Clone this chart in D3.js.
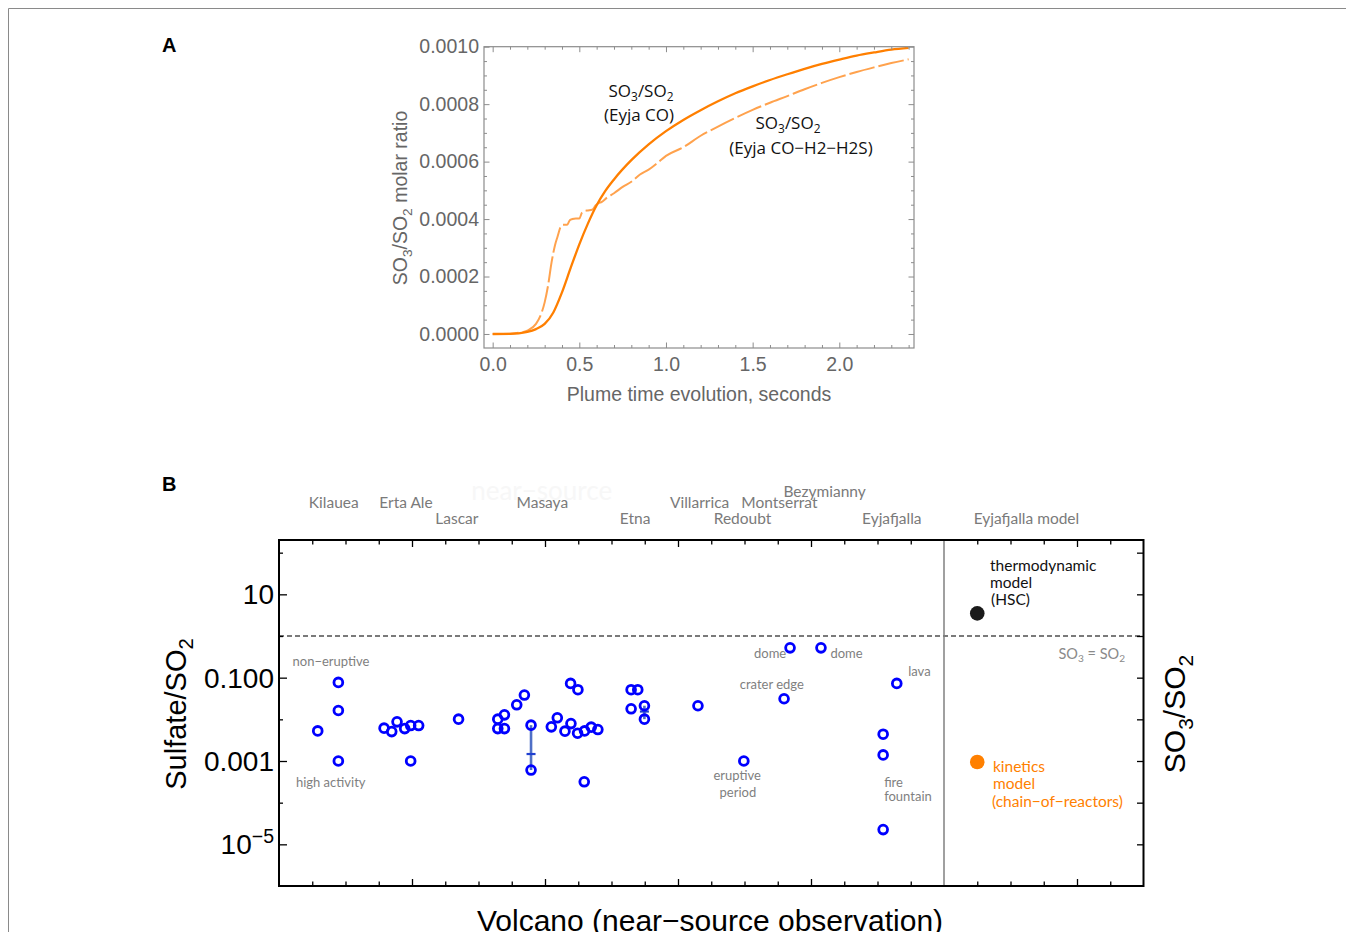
<!DOCTYPE html>
<html><head><meta charset="utf-8">
<script src="https://cdn.jsdelivr.net/npm/d3@7"></script>
<style>body{margin:0;background:#fff;} svg{display:block;}</style>
</head><body>
<svg id="c" width="1346" height="932"></svg>
<script>
// ---------------- Panel A data ----------------
const timeCO  = [0,0.1,0.15,0.2,0.25,0.3,0.35,0.4,0.45,0.5,0.55,0.6,0.65,0.7,0.8,0.9,1.0,1.1,1.2,1.3,1.4,1.5,1.6,1.7,1.8,1.9,2.0,2.1,2.2,2.3,2.4];
const ratioCO = [0,0.0000005,0.000002,0.000007,0.000017,0.000035,0.000075,0.000145,0.00023,0.000312,0.000385,0.000448,0.000498,0.000538,0.000605,0.00066,0.000706,0.000745,0.000779,0.00081,0.000838,0.000862,0.000884,0.000904,0.000923,0.00094,0.000955,0.000969,0.00098,0.00099,0.000996];
const timeH2S  = [0,0.1,0.15,0.2,0.25,0.28,0.3,0.32,0.34,0.36,0.375,0.39,0.405,0.43,0.445,0.46,0.48,0.5,0.515,0.53,0.55,0.575,0.595,0.61,0.63,0.66,0.7,0.75,0.8,0.85,0.9,0.95,1.0,1.1,1.2,1.3,1.4,1.5,1.6,1.7,1.8,1.9,2.0,2.1,2.2,2.3,2.4];
const ratioH2S = [0,0.000001,0.000004,0.000012,0.000035,0.00007,0.00011,0.00017,0.00025,0.00031,0.00034,0.00037,0.00038,0.00038,0.000396,0.0004,0.000402,0.000402,0.000422,0.000428,0.00043,0.000433,0.000448,0.000455,0.00046,0.000475,0.00049,0.000512,0.00053,0.000555,0.000572,0.000595,0.00062,0.00065,0.00069,0.000722,0.000752,0.00078,0.000805,0.000828,0.000852,0.000874,0.000894,0.000912,0.000928,0.000943,0.000956];
const xTicksA = [0,0.5,1,1.5,2];
const xTickLabelsA = ["0.0","0.5","1.0","1.5","2.0"];
const yTicksA = [0,0.0002,0.0004,0.0006,0.0008,0.001];
const yTickLabelsA = ["0.0000","0.0002","0.0004","0.0006","0.0008","0.0010"];

// ---------------- Panel B data ----------------
const obsX = [1.165,1.785,1.785,1.785,
  3.16,3.39,3.55,3.78,3.96,4.20,3.96,
  5.40,
  6.58,6.78,6.58,6.78,7.15,7.38,7.58,7.58,
  8.19,8.37,8.60,8.78,8.98,9.19,9.39,9.59,8.77,8.99,9.18,
  10.59,10.79,10.59,10.99,10.99,
  12.60,
  13.98,
  15.37,15.19,
  16.30,
  18.58,18.17,18.17,18.17];
const obsRatio = [0.00528,0.077,0.0163,0.001,
  0.00614,0.00508,0.0087,0.006,0.0071,0.0071,0.001,
  0.0101,
  0.0101,0.0128,0.006,0.006,0.0223,0.0383,0.00725,0.000607,
  0.0066,0.0109,0.0052,0.0079,0.00465,0.00528,0.0065,0.00568,0.0729,0.0514,0.000317,
  0.0514,0.0514,0.0179,0.0212,0.0101,
  0.0212,
  0.001,
  0.52,0.0312,
  0.52,
  0.0729,0.0044,0.0014,0.0000226];
const errX = [7.58,10.99];
const errLow = [0.000607,0.0101];
const errHigh = [0.00725,0.0212];
const errMid = [0.00147,0.0154];
const volcanoNames = ["Kilauea","Erta Ale","Lascar","Masaya","Etna","Villarrica","Montserrat","Redoubt","Bezymianny","Eyjafjalla","Eyjafjalla model"];
const volcanoLabelX = [1.648,3.82,5.35,7.92,10.71,12.65,15.05,13.94,16.41,18.43,22.48];
const volcanoLabelRow = [1,1,2,1,2,1,1,2,0,2,2];
const modelX = [21.0,21.0];
const modelRatio = [3.49,0.000946];
const yTicksB = [10,0.1,0.001,1e-5];
const yTickLabelsB = ["10","0.100","0.001","10|−5"];
const ySlimTicksB = [100,1,0.01,1e-4];
const noteText = ["non−eruptive","high activity","dome","dome","crater edge","lava","eruptive","period","fire","fountain"];
const noteX = [1.564,1.555,14.77,17.07,14.82,19.26,13.78,13.80,18.20,18.20];
const noteRatio = [0.19,0.000242,0.292,0.292,0.0526,0.1096,0.00035,0.000139,0.000242,0.000111];
const noteAnchor = ["middle","middle","middle","middle","middle","middle","middle","middle","start","start"];

// ---------------- Drawing ----------------
const svg = d3.select("#c");
const SANS = "'Liberation Sans', Arial, sans-serif";
const LATO = "Lato, 'Open Sans', sans-serif";

svg.append("path").attr("d","M8.5,932 V8.5 H1346").attr("fill","none").attr("stroke","#8a8a8a").attr("stroke-width",1);

svg.append("text").attr("x",162).attr("y",51.5).text("A").attr("font-family",SANS).attr("font-weight","bold").attr("font-size",20).attr("fill","#000");
svg.append("text").attr("x",162).attr("y",491).text("B").attr("font-family",SANS).attr("font-weight","bold").attr("font-size",20).attr("fill","#000");

function rich(sel, parts, size){
  let shift = 0;
  parts.forEach(([t,type])=>{
    const ts = sel.append("tspan").text(t);
    let target = 0, fs = size;
    if(type==="sub"){ target = 0.25*size; fs = size*0.7; }
    if(type==="sup"){ target = -0.42*size; fs = size*0.7; }
    ts.attr("font-size",fs).attr("dy", target-shift);
    shift = target;
  });
  return sel;
}

// ---- Panel A ----
const xA = d3.scaleLinear().domain([-0.05,2.431]).range([484,914]);
const yA = d3.scaleLinear().domain([-0.0000488,0.001]).range([348,46.7]);
const gA = svg.append("g");
const grayA = "#8c8c8c";
gA.append("defs").append("clipPath").attr("id","clipA").append("rect")
  .attr("x",484).attr("y",46.7).attr("width",430).attr("height",301.3);

const line = d3.line().curve(d3.curveMonotoneX);
gA.append("path").attr("clip-path","url(#clipA)")
  .attr("d", line(timeH2S.map((t,i)=>[xA(t),yA(ratioH2S[i])])))
  .attr("fill","none").attr("stroke","#ffa24d").attr("stroke-width",2).attr("stroke-dasharray","26,4");
gA.append("path").attr("clip-path","url(#clipA)")
  .attr("d", line(timeCO.map((t,i)=>[xA(t),yA(ratioCO[i])])))
  .attr("fill","none").attr("stroke","#ff7f00").attr("stroke-width",2.3);

const minorXA = d3.range(0,25).map(i=>i/10).filter(v=>Math.abs(v*2-Math.round(v*2))>1e-6);
const minorYA = d3.range(0,21).map(i=>i*0.00005).filter(v=>Math.abs(v/0.0002-Math.round(v/0.0002))>1e-6);

function styleAxis(g, color, fs, family){
  g.select(".domain").remove();
  g.selectAll("line").attr("stroke",color).attr("stroke-width",1);
  g.selectAll("text").attr("fill","#666").attr("font-size",fs).attr("font-family",family);
}
gA.append("g").attr("transform","translate(0,348)")
  .call(d3.axisBottom(xA).tickValues(xTicksA).tickSize(-5.5).tickPadding(9).tickFormat((d,i)=>xTickLabelsA[i]))
  .call(g=>styleAxis(g,grayA,19.5,SANS));
gA.append("g").attr("transform","translate(0,348)")
  .call(d3.axisBottom(xA).tickValues(minorXA).tickSize(-3).tickFormat(""))
  .call(g=>styleAxis(g,grayA,19.5,SANS));
gA.append("g").attr("transform","translate(0,46.7)")
  .call(d3.axisTop(xA).tickValues(xTicksA).tickSize(-5.5).tickFormat(""))
  .call(g=>styleAxis(g,grayA,19.5,SANS));
gA.append("g").attr("transform","translate(0,46.7)")
  .call(d3.axisTop(xA).tickValues(minorXA).tickSize(-3).tickFormat(""))
  .call(g=>styleAxis(g,grayA,19.5,SANS));
gA.append("g").attr("transform","translate(484,0)")
  .call(d3.axisLeft(yA).tickValues(yTicksA).tickSize(-5.5).tickPadding(5).tickFormat((d,i)=>yTickLabelsA[i]))
  .call(g=>styleAxis(g,grayA,19.5,SANS));
gA.append("g").attr("transform","translate(484,0)")
  .call(d3.axisLeft(yA).tickValues(minorYA).tickSize(-3).tickFormat(""))
  .call(g=>styleAxis(g,grayA,19.5,SANS));
gA.append("g").attr("transform","translate(914,0)")
  .call(d3.axisRight(yA).tickValues(yTicksA).tickSize(-5.5).tickFormat(""))
  .call(g=>styleAxis(g,grayA,19.5,SANS));
gA.append("g").attr("transform","translate(914,0)")
  .call(d3.axisRight(yA).tickValues(minorYA).tickSize(-3).tickFormat(""))
  .call(g=>styleAxis(g,grayA,19.5,SANS));
gA.append("rect").attr("x",484).attr("y",46.7).attr("width",430).attr("height",301.3)
  .attr("fill","none").attr("stroke",grayA).attr("stroke-width",1.2);

gA.append("text").attr("x",699).attr("y",401).attr("text-anchor","middle")
  .attr("font-family",SANS).attr("font-size",19.5).attr("fill","#666").text("Plume time evolution, seconds");
rich(gA.append("text").attr("transform","translate(407,198) rotate(-90)").attr("text-anchor","middle")
  .attr("font-family",SANS).attr("font-size",19.5).attr("fill","#666"),
  [["SO",""],["3","sub"],["/SO",""],["2","sub"],[" molar ratio",""]],19.5);

const OPEN = "'Open Sans', 'Noto Sans', sans-serif";
function labA(x,y,parts){
  rich(gA.append("text").attr("x",x).attr("y",y).attr("text-anchor","middle")
    .attr("font-family",OPEN).attr("font-size",17).attr("fill","#111"),parts,17);
}
labA(641,97,[["SO",""],["3","sub"],["/SO",""],["2","sub"]]);
labA(639,121,[["(Eyja CO)",""]]);
labA(788,129,[["SO",""],["3","sub"],["/SO",""],["2","sub"]]);
labA(801,154,[["(Eyja CO−H2−H2S)",""]]);

// ---- Panel B ----
const L=279, R=1143.5, T=540, B=886;
const xB = d3.scaleLinear().domain([0,26]).range([L,R]);
const yB = d3.scaleLog().domain([1e-6, Math.pow(10,2.304)]).range([B,T]);
const gB = svg.append("g");

// faint ghost text
gB.append("text").attr("x",xB(7.9)).attr("y",500).attr("text-anchor","middle")
  .attr("font-family",LATO).attr("font-size",26).attr("fill","#f7f7f7").text("near−source");

const rowY = [496.7,508,524];
volcanoNames.forEach((n,i)=>{
  gB.append("text").attr("x",xB(volcanoLabelX[i])).attr("y",rowY[volcanoLabelRow[i]])
    .attr("text-anchor","middle").attr("font-family",LATO).attr("font-size",15.5)
    .attr("fill","#7a7a7a").text(n);
});

gB.append("line").attr("x1",L).attr("x2",R).attr("y1",yB(1)).attr("y2",yB(1))
  .attr("stroke","#7a7a7a").attr("stroke-width",2).attr("stroke-dasharray","5,3");
gB.append("line").attr("x1",xB(20)).attr("x2",xB(20)).attr("y1",T).attr("y2",B)
  .attr("stroke","#808080").attr("stroke-width",1.5);

const xAll = d3.range(1,26);
const xMaj = xAll.filter(v=>v%4===0 && v!==20);
const xMin = xAll.filter(v=>v%4!==0);
function tickAxis(axis, vals, size){
  return g=>{ g.call(axis.tickValues(vals).tickSize(size).tickFormat(""));
    g.select(".domain").remove(); g.selectAll("line").attr("stroke","#000").attr("stroke-width",1.3); };
}
gB.append("g").attr("transform",`translate(0,${B})`).call(tickAxis(d3.axisBottom(xB),xMaj,-7));
gB.append("g").attr("transform",`translate(0,${B})`).call(tickAxis(d3.axisBottom(xB),xMin,-4.5));
gB.append("g").attr("transform",`translate(0,${T})`).call(tickAxis(d3.axisTop(xB),xMaj,-7));
gB.append("g").attr("transform",`translate(0,${T})`).call(tickAxis(d3.axisTop(xB),xMin,-4.5));
gB.append("g").attr("transform",`translate(${L},0)`).call(tickAxis(d3.axisLeft(yB),yTicksB,-8));
gB.append("g").attr("transform",`translate(${L},0)`).call(tickAxis(d3.axisLeft(yB),ySlimTicksB,-4));
gB.append("g").attr("transform",`translate(${R},0)`).call(tickAxis(d3.axisRight(yB),yTicksB.concat(ySlimTicksB),-6.5));

yTicksB.forEach((v,i)=>{
  const t = gB.append("text").attr("x",L-5).attr("y",yB(v)).attr("dy","0.36em").attr("text-anchor","end")
    .attr("font-family",SANS).attr("font-size",28).attr("fill","#000");
  const lab = yTickLabelsB[i];
  if(lab.includes("|")){
    const [b,e] = lab.split("|");
    t.append("tspan").text(b);
    t.append("tspan").text(e).attr("font-size",19.5).attr("dy",-11);
  } else t.text(lab);
});

gB.append("rect").attr("x",L).attr("y",T).attr("width",R-L).attr("height",B-T)
  .attr("fill","none").attr("stroke","#000").attr("stroke-width",2);

errX.forEach((x,i)=>{
  gB.append("line").attr("x1",xB(x)).attr("x2",xB(x)).attr("y1",yB(errLow[i])).attr("y2",yB(errHigh[i]))
    .attr("stroke","#4f6fc6").attr("stroke-width",2.6);
  gB.append("line").attr("x1",xB(x)-4.5).attr("x2",xB(x)+4.5).attr("y1",yB(errMid[i])).attr("y2",yB(errMid[i]))
    .attr("stroke","#1f3fd0").attr("stroke-width",2.2);
});

gB.selectAll("circle.obs").data(obsX).enter().append("circle").attr("class","obs")
  .attr("cx",d=>xB(d)).attr("cy",(d,i)=>yB(obsRatio[i])).attr("r",4.4)
  .attr("fill","none").attr("stroke","#0000ff").attr("stroke-width",2.8);

const modelColor = ["#1a1a1a","#ff8000"];
modelX.forEach((x,i)=>{
  gB.append("circle").attr("cx",xB(x)).attr("cy",yB(modelRatio[i])).attr("r",7.3).attr("fill",modelColor[i]);
});

noteText.forEach((t,i)=>{
  gB.append("text").attr("x",xB(noteX[i])).attr("y",yB(noteRatio[i])).attr("text-anchor",noteAnchor[i])
    .attr("font-family",LATO).attr("font-size",13).attr("fill","#7f7f7f").text(t);
});
function block(x,y,lines,color){
  lines.forEach((l,i)=>{
    gB.append("text").attr("x",x).attr("y",y+i*17.2).attr("font-family",LATO).attr("font-size",15.5)
      .attr("fill",color).text(l);
  });
}
block(990,571,["thermodynamic","model"],"#111");
gB.append("text").attr("x",991).attr("y",605.3).attr("font-family",LATO).attr("font-size",15.5).attr("fill","#111").text("(HSC)");
block(993,772,["kinetics","model"],"#ff8000");
gB.append("text").attr("x",992).attr("y",806.5).attr("font-family",LATO).attr("font-size",15.5).attr("fill","#ff8000").text("(chain−of−reactors)");
rich(gB.append("text").attr("x",1125).attr("y",658.5).attr("text-anchor","end")
  .attr("font-family",LATO).attr("font-size",14.5).attr("fill","#8a8a8a"),
  [["SO",""],["3","sub"],[" = SO",""],["2","sub"]],14.5);

rich(gB.append("text").attr("transform","translate(186,714) rotate(-90)").attr("text-anchor","middle")
  .attr("font-family",SANS).attr("font-size",29).attr("fill","#000"),
  [["Sulfate/SO",""],["2","sub"]],29);
rich(gB.append("text").attr("transform","translate(1185,714) rotate(-90)").attr("text-anchor","middle")
  .attr("font-family",SANS).attr("font-size",30).attr("fill","#000"),
  [["SO",""],["3","sub"],["/SO",""],["2","sub"]],30);
gB.append("text").attr("x",710).attr("y",931).attr("text-anchor","middle")
  .attr("font-family",SANS).attr("font-size",30).attr("fill","#000").text("Volcano (near−source observation)");
</script>
</body></html>
